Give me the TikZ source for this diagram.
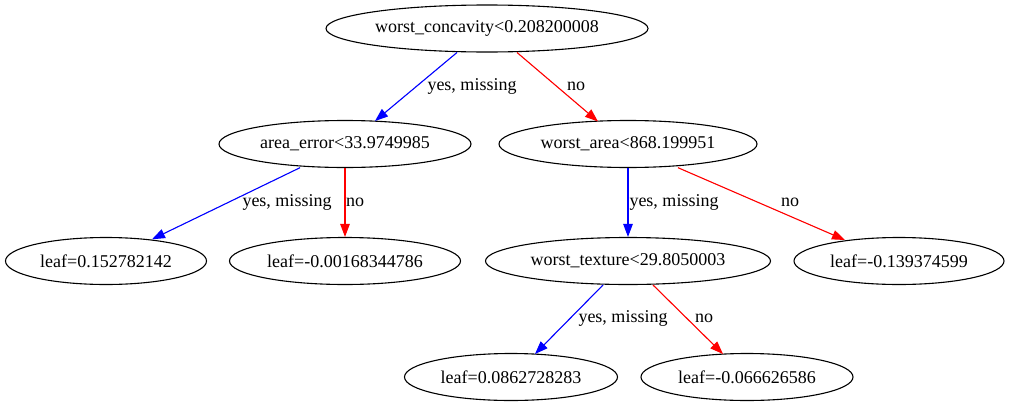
\documentclass[tikz,border=0pt]{standalone}
\usepackage{fontspec}
\setmainfont{Liberation Serif}
\usetikzlibrary{shapes.geometric,arrows.meta,calc}
\begin{document}
\begin{tikzpicture}[x=1pt,y=-1pt,
  tnode/.style={draw,ellipse,inner sep=0pt,minimum height=47pt,line width=1.1pt,font=\fontsize{18pt}{20pt}\selectfont},
  elabel/.style={inner sep=0pt,font=\fontsize{18pt}{20pt}\selectfont},
  yesedge/.style={draw=blue,line width=1.1pt,-{Triangle[length=13pt,width=9.5pt]},fill=blue},
  noedge/.style={draw=red,line width=1.1pt,-{Triangle[length=13pt,width=9.5pt]},fill=red}]
\useasboundingbox (0,0) rectangle (1009,407);
% decision nodes
\node[tnode,minimum width=322pt] (n0) at (487,28.5) {worst\_concavity<0.208200008};
\node[tnode,minimum width=252pt] (n1) at (345,144) {area\_error<33.9749985};
\node[tnode,minimum width=258pt] (n2) at (628,144) {worst\_area<868.199951};
\node[tnode,minimum width=285pt] (n5) at (628,261) {worst\_texture<29.8050003};
% leaves
\node[tnode,minimum width=201pt] (n3) at (106,261) {leaf=0.152782142};
\node[tnode,minimum width=231pt] (n4) at (345,261) {leaf=-0.00168344786};
\node[tnode,minimum width=210pt] (n6) at (899,261) {leaf=-0.139374599};
\node[tnode,minimum width=213pt] (n7) at (511,377) {leaf=0.0862728283};
\node[tnode,minimum width=212pt] (n8) at (747,377) {leaf=-0.066626586};
% connectors (end points on the ellipse borders, given from each centre)
\draw[yesedge] ($(n0.center)+(-30,24)$) -- ($(n1.center)+(30,-23)$);
\draw[noedge]  ($(n0.center)+(30,24)$) -- ($(n2.center)+(-30,-22.5)$);
\draw[yesedge] ($(n1.center)+(-45,23.7)$) -- ($(n3.center)+(46,-21.7)$);
\draw[noedge]  (n1) -- (n4);
\draw[yesedge] (n2) -- (n5);
\draw[noedge]  ($(n2.center)+(50,23.7)$) -- ($(n6.center)+(-54,-21)$);
\draw[yesedge] ($(n5.center)+(-25,24)$) -- ($(n7.center)+(24,-23)$);
\draw[noedge]  ($(n5.center)+(25,24)$) -- ($(n8.center)+(-24,-23)$);
% connector labels
\node[elabel] (l01) at (472,86) {yes, missing};
\node[elabel] (l02) at (576,86) {no};
\node[elabel] (l13) at (287,202) {yes, missing};
\node[elabel] (l14) at (355,202) {no};
\node[elabel] (l25) at (674,202) {yes, missing};
\node[elabel] (l26) at (790,202) {no};
\node[elabel] (l57) at (623,318) {yes, missing};
\node[elabel] (l58) at (704,318) {no};
\end{tikzpicture}
\end{document}
